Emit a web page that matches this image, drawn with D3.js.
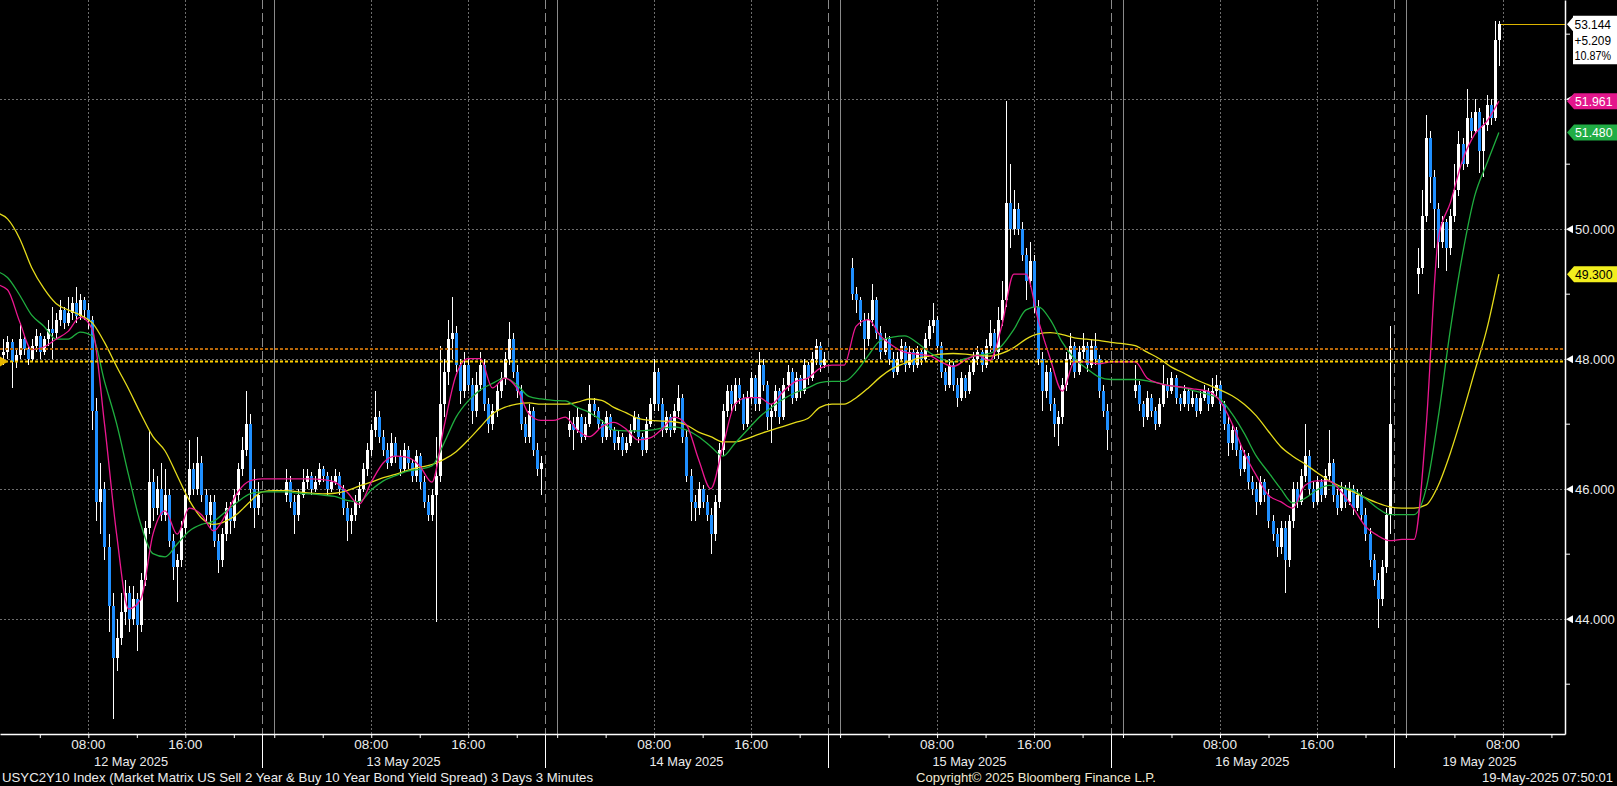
<!DOCTYPE html>
<html><head><meta charset="utf-8">
<script src="https://cdn.jsdelivr.net/npm/d3@7"></script>
<style>
html,body{margin:0;padding:0;background:#000;overflow:hidden}
svg{display:block}
text{font-family:"Liberation Sans",Arial,sans-serif}
</style></head><body>
<svg id="chart" width="1617" height="786"></svg>
<script>
// ---------------- DATA ----------------
const dayLabels = ["12 May 2025","13 May 2025","14 May 2025","15 May 2025","16 May 2025","19 May 2025"];
const timeTickLabels = ["08:00","16:00"];
const gridHours = [8,16];
const minorHours = [0,4,8,12,16,20];
const yLabelTicks = [44,46,48,50,52];
const yMinorTicks = [43,45,47,49,51,53];
const titleText = "USYC2Y10 Index (Market Matrix US Sell 2 Year & Buy 10 Year Bond Yield Spread) 3 Days 3 Minutes";
const copyrightText = "Copyright\u00A9 2025 Bloomberg Finance L.P.";
const stampText = "19-May-2025 07:50:01";
const lastPrice = 53.144, netChange = "+5.209", pctChange = "10.87%";
const maLastValues = [51.961, 51.480, 49.300];   // fast, mid, slow
const prevCloseLevel = 47.955, orangeLevel = 48.149;

// candles: [open, high, low, close], 20-minute bars from 01:00
const candles12May = [
[48.05,48.3,47.9,48.1],[48.1,48.35,48.0,48.25],[48.25,48.3,47.55,47.95],[47.95,48.15,47.85,48.05],[48.05,48.55,48.0,48.3],
[48.3,48.35,48.05,48.15],[48.15,48.2,47.9,48.0],[48.0,48.3,47.95,48.2],[48.2,48.45,48.1,48.35],[48.35,48.4,48.0,48.1],
[48.1,48.35,48.05,48.3],[48.3,48.6,48.2,48.45],[48.45,48.8,48.0,48.4],[48.4,48.7,48.3,48.6],[48.6,48.9,48.5,48.75],
[48.75,48.8,48.45,48.55],[48.55,48.95,48.5,48.7],[48.7,48.95,48.6,48.85],[48.85,49.1,48.55,48.65],[48.65,49.0,48.6,48.9],
[48.9,48.95,48.6,48.75],[48.75,48.85,48.45,48.6],[48.6,48.65,46.9,47.2],[47.2,47.4,45.5,45.8],[45.8,46.4,45.3,46.0],
[46.0,46.1,44.9,45.1],[45.1,45.3,43.8,44.2],[44.2,44.4,42.45,43.4],[43.4,44.0,43.2,43.7],[43.7,44.4,43.6,44.1],
[44.1,44.6,43.9,44.4],[44.4,44.5,43.8,44.0],[44.0,44.5,43.9,44.3],[44.3,44.4,43.5,43.9],[43.9,44.7,43.8,44.6],
[44.6,45.5,44.5,45.4],[45.4,46.9,45.3,46.1],[46.1,46.3,45.5,45.7],[45.7,46.2,45.6,46.0],[46.0,46.4,45.5,45.6],
[45.6,46.3,45.5,45.9],[45.9,46.0,45.1,45.2],[45.2,45.3,44.6,44.8],[44.8,45.0,44.25,44.9],[44.9,45.5,44.8,45.4],
[45.4,46.0,45.3,45.9],[45.9,46.75,45.8,46.3],[46.3,46.4,45.9,46.0],[46.0,46.8,45.9,46.4],[46.4,46.5,45.8,45.9],
[45.9,46.0,45.5,45.6],[45.6,45.9,45.4,45.8],[45.8,45.9,45.1,45.2],[45.2,45.3,44.7,44.9],[44.9,45.4,44.8,45.3],
[45.3,45.8,45.2,45.7],[45.7,45.8,45.3,45.5],[45.5,46.0,45.4,45.9],[45.9,46.4,45.8,46.3],[46.3,46.8,46.2,46.6],
[46.6,47.5,46.5,47.0],[47.0,47.15,45.7,46.0],[46.0,46.3,45.4,45.7],[45.7,46.1,45.6,45.9]];
const candles13May = [
[45.9,46.3,45.8,46.1],[46.1,46.2,45.7,45.8],[45.8,45.9,45.3,45.6],[45.6,46.0,45.5,45.9],[45.9,46.3,45.85,46.1],
[46.1,46.3,46.0,46.2],[46.2,46.25,45.9,46.0],[46.0,46.2,45.95,46.1],[46.1,46.4,46.05,46.3],[46.3,46.35,46.1,46.2],
[46.2,46.25,45.9,46.0],[46.0,46.2,45.95,46.1],[46.1,46.3,46.05,46.2],[46.2,46.25,45.9,46.0],[46.0,46.05,45.6,45.7],
[45.7,45.8,45.2,45.5],[45.5,45.7,45.3,45.6],[45.6,45.9,45.5,45.8],[45.8,46.1,45.7,46.0],[46.0,46.4,45.95,46.3],
[46.3,46.7,46.2,46.6],[46.6,47.0,46.5,46.9],[46.9,47.5,46.8,47.1],[47.1,47.2,46.7,46.8],[46.8,46.9,46.5,46.6],
[46.6,46.7,46.3,46.4],[46.4,46.85,46.35,46.7],[46.7,46.8,46.4,46.5],[46.5,46.6,46.2,46.3],[46.3,46.7,46.25,46.6],
[46.6,46.65,46.3,46.4],[46.4,46.45,46.1,46.2],[46.2,46.6,46.1,46.5],[46.5,46.55,46.0,46.1],[46.1,46.2,45.7,45.8],
[45.8,45.9,45.5,45.6],[45.6,46.0,45.5,45.9],[45.9,46.8,43.95,46.2],[46.2,48.2,46.1,47.3],[47.3,48.0,47.1,47.8],
[47.8,48.6,47.6,48.3],[48.3,48.95,48.0,48.4],[48.4,48.5,47.8,47.9],[47.9,48.0,47.3,47.5],[47.5,48.1,47.4,47.9],
[47.9,48.0,47.5,47.6],[47.6,47.7,47.0,47.2],[47.2,47.8,47.1,47.6],[47.6,48.1,47.5,47.9],[47.9,48.0,47.2,47.3],
[47.3,47.4,46.85,47.0],[47.0,47.3,46.9,47.2],[47.2,47.6,47.1,47.5],[47.5,47.8,47.4,47.7],[47.7,48.1,47.6,48.0],
[48.0,48.56,47.9,48.3],[48.3,48.4,47.7,47.8],[47.8,47.9,47.4,47.5],[47.5,47.6,46.9,47.0],[47.0,47.1,46.7,46.8],
[46.8,47.3,46.7,47.2],[47.2,47.25,46.5,46.6],[46.6,46.7,46.2,46.3],[46.3,46.5,45.9,46.4]];
const candles14May = [
[46.9,47.2,46.8,47.0],[47.0,47.1,46.6,46.9],[46.9,47.25,46.85,47.1],[47.1,47.15,46.7,46.8],[46.8,47.1,46.75,47.0],
[47.0,47.6,46.95,47.3],[47.3,47.4,47.1,47.2],[47.2,47.25,46.9,47.0],[47.0,47.05,46.7,46.8],[46.8,47.2,46.75,47.1],
[47.1,47.15,46.8,46.9],[46.9,46.95,46.6,46.7],[46.7,46.9,46.6,46.8],[46.8,46.85,46.5,46.6],[46.6,46.8,46.55,46.7],
[46.7,47.0,46.65,46.9],[46.9,47.2,46.85,47.1],[47.1,47.15,46.7,46.8],[46.8,46.85,46.5,46.6],[46.6,47.1,46.55,47.0],
[47.0,47.4,46.95,47.3],[47.3,48.0,47.2,47.8],[47.8,47.85,47.2,47.3],[47.3,47.4,46.8,46.9],[46.9,47.2,46.85,47.1],
[47.1,47.15,46.8,46.9],[46.9,47.3,46.85,47.2],[47.2,47.6,47.1,47.4],[47.4,47.45,46.7,46.8],[46.8,46.9,46.1,46.2],
[46.2,46.3,45.5,45.8],[45.8,45.9,45.5,45.7],[45.7,46.1,45.6,46.0],[46.0,46.05,45.7,45.8],[45.8,45.9,45.5,45.6],
[45.6,45.7,45.0,45.3],[45.3,45.9,45.2,45.8],[45.8,46.7,45.7,46.6],[46.6,47.3,46.5,47.2],[47.2,47.6,47.1,47.5],
[47.5,47.6,47.2,47.3],[47.3,47.7,47.2,47.6],[47.6,47.7,47.3,47.4],[47.4,47.45,46.9,47.0],[47.0,47.5,46.95,47.4],
[47.4,47.8,47.3,47.7],[47.7,47.75,47.2,47.3],[47.3,48.1,47.2,47.9],[47.9,48.0,47.5,47.6],[47.6,47.65,46.9,47.1],
[47.1,47.3,46.7,47.2],[47.2,47.6,47.1,47.5],[47.5,47.55,47.0,47.1],[47.1,47.7,47.05,47.6],[47.6,47.9,47.5,47.8],
[47.8,47.85,47.3,47.4],[47.4,47.8,47.35,47.7],[47.7,47.75,47.4,47.5],[47.5,48.0,47.45,47.9],[47.9,47.95,47.6,47.7],
[47.7,48.1,47.65,48.0],[48.0,48.3,47.9,48.2],[48.2,48.25,47.8,47.9],[47.9,48.1,47.85,48.0]];
const candles15May = [
[49.4,49.55,48.9,49.0],[49.0,49.1,48.7,48.9],[48.9,48.95,48.5,48.6],[48.6,48.7,48.0,48.3],[48.3,48.7,48.2,48.6],
[48.6,49.15,48.5,48.9],[48.9,48.95,48.3,48.4],[48.4,48.5,48.0,48.1],[48.1,48.4,48.05,48.3],[48.3,48.35,47.9,48.0],
[48.0,48.1,47.7,47.8],[47.8,48.1,47.75,48.0],[48.0,48.3,47.95,48.2],[48.2,48.25,47.8,47.9],[47.9,48.2,47.85,48.1],
[48.1,48.15,47.8,47.9],[47.9,48.2,47.85,48.1],[48.1,48.15,47.9,48.0],[48.0,48.4,47.95,48.3],[48.3,48.6,48.2,48.5],
[48.5,48.85,48.4,48.6],[48.6,48.65,48.1,48.2],[48.2,48.25,47.7,47.8],[47.8,47.85,47.5,47.6],[47.6,48.0,47.55,47.9],
[47.9,47.95,47.5,47.6],[47.6,47.7,47.25,47.4],[47.4,47.8,47.35,47.7],[47.7,47.75,47.4,47.5],[47.5,47.9,47.45,47.8],
[47.8,48.1,47.75,48.0],[48.0,48.2,47.9,48.1],[48.1,48.15,47.8,47.9],[47.9,48.3,47.85,48.2],[48.2,48.6,48.1,48.4],
[48.4,48.45,48.0,48.1],[48.1,48.8,48.0,48.6],[48.6,49.2,48.5,48.9],[48.9,51.96,48.8,50.4],[50.4,51.0,49.7,50.0],
[50.0,50.6,49.9,50.3],[50.3,50.4,49.9,50.0],[50.0,50.1,49.5,49.6],[49.6,49.7,48.9,49.2],[49.2,49.8,49.1,49.5],
[49.5,49.6,48.7,48.8],[48.8,48.9,47.9,48.0],[48.0,48.1,47.2,47.5],[47.5,47.9,47.4,47.8],[47.8,47.85,47.2,47.3],
[47.3,47.4,46.8,47.0],[47.0,47.2,46.65,47.1],[47.1,47.7,47.0,47.6],[47.6,48.1,47.5,48.0],[48.0,48.4,47.9,48.2],
[48.2,48.25,47.7,47.8],[47.8,48.2,47.75,48.1],[48.1,48.4,48.0,48.2],[48.2,48.25,47.8,47.9],[47.9,48.3,47.85,48.2],
[48.2,48.4,47.9,48.0],[48.0,48.05,47.4,47.5],[47.5,47.6,47.1,47.2],[47.2,47.3,46.6,46.9]];
const candles16May = [
[47.5,47.9,47.4,47.6],[47.6,47.65,47.2,47.3],[47.3,47.35,46.95,47.1],[47.1,47.5,47.05,47.4],[47.4,47.45,47.1,47.2],
[47.2,47.25,46.9,47.0],[47.0,47.4,46.95,47.3],[47.3,47.9,47.25,47.6],[47.6,47.7,47.4,47.5],[47.5,47.8,47.45,47.7],
[47.7,47.75,47.3,47.4],[47.4,47.45,47.2,47.3],[47.3,47.6,47.25,47.5],[47.5,47.55,47.2,47.3],[47.3,47.5,47.25,47.4],
[47.4,47.45,47.1,47.2],[47.2,47.5,47.15,47.4],[47.4,47.6,47.35,47.5],[47.5,47.55,47.2,47.3],[47.3,47.7,47.25,47.5],
[47.5,47.75,47.4,47.6],[47.6,47.65,47.2,47.3],[47.3,47.35,46.9,47.0],[47.0,47.1,46.5,46.7],[46.7,47.0,46.6,46.9],
[46.9,46.95,46.5,46.6],[46.6,46.7,46.2,46.3],[46.3,46.6,46.25,46.5],[46.5,46.55,46.0,46.1],[46.1,46.2,45.9,46.0],
[46.0,46.1,45.6,45.8],[45.8,46.2,45.75,46.1],[46.1,46.15,45.8,45.9],[45.9,46.0,45.4,45.5],[45.5,45.6,45.2,45.3],
[45.3,45.4,44.95,45.1],[45.1,45.5,45.0,45.4],[45.4,45.5,44.4,44.9],[44.9,45.6,44.8,45.5],[45.5,46.1,45.4,46.0],
[46.0,46.1,45.7,45.8],[45.8,46.3,45.75,46.2],[46.2,47.0,46.1,46.5],[46.5,46.6,45.9,46.0],[46.0,46.1,45.7,45.8],
[45.8,46.2,45.75,46.1],[46.1,46.15,45.8,45.9],[45.9,46.3,45.85,46.2],[46.2,46.9,46.1,46.4],[46.4,46.45,45.8,45.9],
[45.9,46.0,45.6,45.7],[45.7,46.1,45.65,46.0],[46.0,46.05,45.7,45.8],[45.8,46.1,45.75,46.0],[46.0,46.05,45.6,45.7],
[45.7,46.0,45.65,45.9],[45.9,45.95,45.5,45.6],[45.6,45.7,45.2,45.3],[45.3,45.4,44.8,44.9],[44.9,45.0,44.5,44.6],
[44.6,44.7,43.85,44.3],[44.3,44.9,44.2,44.8],[44.8,45.7,44.7,45.6],[45.6,48.5,45.3,47.0]];
const candles19May = [
[49.3,49.7,49.0,49.4],[49.4,50.6,49.3,50.2],[50.2,51.75,50.1,51.4],[51.4,51.5,50.4,50.8],[50.8,50.9,49.7,50.3],
[50.3,50.4,49.4,49.8],[49.8,50.2,49.7,50.1],[50.1,50.15,49.35,49.7],[49.7,50.3,49.6,50.2],[50.2,51.0,50.1,50.6],
[50.6,51.5,50.5,51.3],[51.3,51.4,50.9,51.0],[51.0,52.15,50.95,51.7],[51.7,51.8,51.4,51.5],[51.5,52.0,51.45,51.8],
[51.8,51.85,50.85,51.2],[51.2,51.7,50.8,51.6],[51.6,52.05,51.5,51.9],[51.9,52.0,51.6,51.7],[51.7,53.2,51.65,52.9],
[52.9,53.2,52.5,53.144]];
const candlesByDay = [candles12May, candles13May, candles14May, candles15May, candles16May, candles19May];

// moving averages sampled hourly (trading time), ending at the last bar
const maFast = [
49.15,49.06,48.57,48.14,48.18,48.3,48.42,48.64,48.45,47.0,
45.3,44.15,44.3,45.3,45.66,45.3,45.7,45.6,45.35,45.6,
45.95,46.12,46.15,46.15,46.15,46.15,46.15,46.14,46.1,45.95,
45.76,46.1,46.4,46.5,46.48,46.35,46.1,46.95,47.75,48.0,
48.0,47.55,47.7,47.55,47.15,47.05,47.05,47.1,46.9,46.8,
46.95,47.02,46.92,46.75,46.78,46.92,47.1,46.98,46.45,46.0,
46.65,47.3,47.4,47.4,47.3,47.5,47.65,47.7,47.85,47.9,
47.9,48.5,48.6,48.35,48.2,48.1,48.07,48.05,47.95,47.88,
47.98,48.05,47.97,48.5,49.3,49.3,48.6,48.0,47.5,47.95,
47.95,47.92,47.95,47.95,47.95,47.7,47.62,47.58,47.56,47.53,
47.5,47.35,47.0,46.55,46.2,45.9,45.8,45.7,46.05,46.12,
46.12,45.95,45.7,45.42,45.28,45.2,45.22,45.22,46.95,49.85,
50.4,51.05,51.45,51.65,51.96];
const maMid = [
49.35,49.25,48.98,48.67,48.5,48.3,48.3,48.41,48.35,47.65,
47.0,46.2,45.45,45.0,44.95,45.15,45.35,45.45,45.5,45.65,
45.8,45.92,45.95,45.95,45.95,45.93,45.92,45.9,45.88,45.82,
45.8,45.98,46.12,46.2,46.27,46.3,46.35,46.7,47.1,47.35,
47.52,47.62,47.7,47.6,47.42,47.38,47.36,47.35,47.25,47.17,
47.05,46.9,46.89,46.89,46.9,46.93,46.95,46.9,46.8,46.65,
46.5,46.7,46.9,47.1,47.25,47.38,47.48,47.55,47.63,47.65,
47.65,47.8,48.05,48.28,48.33,48.35,48.25,48.1,48.0,47.95,
48.0,48.05,48.08,48.2,48.45,48.75,48.8,48.6,48.25,48.0,
47.85,47.72,47.68,47.68,47.68,47.66,47.62,47.58,47.55,47.5,
47.45,47.38,47.15,46.85,46.5,46.25,46.0,45.78,45.85,45.98,
46.05,46.02,45.98,45.85,45.7,45.6,45.6,45.6,46.0,47.1,
48.45,49.6,50.5,51.0,51.48];
const maSlow = [
50.25,50.15,49.85,49.4,49.08,48.85,48.75,48.67,48.55,48.25,
47.88,47.53,47.15,46.8,46.58,46.2,45.82,45.55,45.45,45.5,
45.62,45.8,45.95,45.97,45.97,45.95,45.93,45.92,45.93,45.97,
46.04,46.1,46.17,46.22,46.28,46.33,46.37,46.45,46.57,46.75,
46.95,47.15,47.25,47.3,47.32,47.3,47.3,47.3,47.33,47.38,
47.36,47.25,47.17,47.08,47.05,47.04,47.03,46.98,46.87,46.8,
46.72,46.72,46.77,46.84,46.9,46.96,47.02,47.08,47.25,47.3,
47.3,47.4,47.55,47.72,47.85,47.93,48.0,48.04,48.07,48.08,
48.07,48.05,48.04,48.08,48.17,48.3,48.38,48.4,48.37,48.32,
48.3,48.28,48.25,48.23,48.2,48.1,48.0,47.87,47.78,47.68,
47.6,47.52,47.43,47.3,47.12,46.88,46.65,46.5,46.38,46.25,
46.12,46.03,45.95,45.86,45.78,45.72,45.7,45.7,45.75,46.05,
46.55,47.15,47.8,48.45,49.3];

// ---------------- LAYOUT ----------------
const W = 1617, H = 786, plotR = 1565, plotB = 734;
const SESSION = 23 + 1/3;               // 23:00 previous day -> 22:20
const tHour = (d, clock) => d * SESSION + clock + 1;   // trading-time hours
const CANDLE_START = 1, CANDLE_STEP = 1/3;
const MA_START = tHour(0, 0) + 1/3;

const x = d3.scaleLinear().domain([tHour(0, 43/60), tHour(5, 13.12)]).range([0, plotR]);
const y = d3.scaleLinear().domain([42.226, 53.518]).range([plotB, 0]);

const C = {
  grid: "#6d6d6d", sep: "#8a8a8a", text: "#ececec", blue: "#1f8fff",
  fast: "#ec1790", mid: "#1fae3f", slow: "#e6dc1a",
  fastBox: "#e3168c", midBox: "#21ad45", slowBox: "#f2ee1e"
};

const svg = d3.select("#chart");
svg.append("rect").attr("width", W).attr("height", H).attr("fill", "#000");

const g = svg.append("g");
const crisp = s => s.attr("shape-rendering", "crispEdges");
const px = v => Math.round(v) + 0.5;

yLabelTicks.forEach(v => {
  crisp(g.append("line")).attr("x1", 0).attr("x2", plotR)
    .attr("y1", px(y(v))).attr("y2", px(y(v)))
    .attr("stroke", C.grid).attr("stroke-dasharray", "2,2");
});

dayLabels.forEach((lab, d) => {
  gridHours.forEach(h => {
    const xx = x(tHour(d, h));
    if (xx < 0 || xx > plotR) return;
    crisp(g.append("line")).attr("x1", px(xx)).attr("x2", px(xx)).attr("y1", 0).attr("y2", plotB)
      .attr("stroke", C.grid).attr("stroke-dasharray", "2,2");
  });
  if (d > 0) {
    const xs = x(tHour(d, -1));
    crisp(g.append("line")).attr("x1", px(xs)).attr("x2", px(xs)).attr("y1", 0).attr("y2", plotB)
      .attr("stroke", C.sep).attr("stroke-dasharray", "9,4");
    const xm = x(tHour(d, 0));
    crisp(g.append("line")).attr("x1", px(xm)).attr("x2", px(xm)).attr("y1", 0).attr("y2", plotB)
      .attr("stroke", C.sep);
  }
});

// candles: wick underneath, body on top
const candleG = g.append("g");
candlesByDay.forEach((bars, d) => {
  bars.forEach((b, i) => {
    const [o, h, l, c] = b;
    const hi = Math.max(h, o, c), lo = Math.min(l, o, c);
    const cx = Math.round(x(tHour(d, CANDLE_START + i * CANDLE_STEP)));
    const up = c >= o;
    crisp(candleG.append("line")).attr("x1", cx + 0.5).attr("x2", cx + 0.5)
      .attr("y1", Math.round(y(hi))).attr("y2", Math.round(y(lo)))
      .attr("stroke", "#ffffff").attr("stroke-width", 1);
    const yt = Math.round(y(Math.max(o, c))), yb = Math.round(y(Math.min(o, c)));
    crisp(candleG.append("rect")).attr("x", cx - 1).attr("width", 3)
      .attr("y", yt).attr("height", Math.max(1, yb - yt))
      .attr("fill", up ? "#ffffff" : C.blue);
  });
});

const maLine = d3.line().x((v, k) => x(MA_START + k)).y(v => y(v)).curve(d3.curveMonotoneX);
[[maSlow, C.slow], [maMid, C.mid], [maFast, C.fast]].forEach(([arr, col]) => {
  g.append("path").attr("d", maLine(arr)).attr("fill", "none").attr("stroke", col).attr("stroke-width", 1.3);
});

g.append("line").attr("x1", 0).attr("x2", plotR).attr("y1", y(orangeLevel)).attr("y2", y(orangeLevel))
  .attr("stroke", "#b8680a").attr("stroke-width", 2).attr("stroke-dasharray", "3,2");
g.append("line").attr("x1", 0).attr("x2", plotR).attr("y1", y(prevCloseLevel)).attr("y2", y(prevCloseLevel))
  .attr("stroke", "#ffd000").attr("stroke-width", 2).attr("stroke-dasharray", "3,2");
const yp = y(prevCloseLevel);
g.append("path").attr("d", `M0,${yp - 5}L8,${yp}L0,${yp + 5}Z`).attr("fill", "#e8b800");

const lastBarX = x(tHour(5, CANDLE_START + (candles19May.length - 1) * CANDLE_STEP));
crisp(g.append("line")).attr("x1", lastBarX + 2).attr("x2", plotR)
  .attr("y1", px(y(lastPrice))).attr("y2", px(y(lastPrice))).attr("stroke", "#dcb400");

// ---------------- AXES ----------------
const minorTs = [];
dayLabels.forEach((lab, d) => minorHours.forEach(h => {
  const t = tHour(d, h); if (x(t) >= 0 && x(t) <= plotR) minorTs.push(t);
}));
const xAxis = svg.append("g").attr("transform", `translate(0,${plotB})`)
  .call(d3.axisBottom(x).tickValues(minorTs).tickSize(4).tickSizeOuter(0).tickFormat(""));
xAxis.select(".domain").attr("stroke", "#fff").attr("stroke-width", 1.5);
xAxis.selectAll(".tick line").attr("stroke", "#fff");

dayLabels.forEach((lab, d) => {
  if (d === 0) return;
  const xs = px(x(tHour(d, -1)));
  crisp(svg.append("line")).attr("x1", xs).attr("x2", xs).attr("y1", plotB).attr("y2", 768)
    .attr("stroke", "#fff").attr("stroke-width", 1.3);
});

dayLabels.forEach((lab, d) => {
  gridHours.forEach((h, j) => {
    const xx = x(tHour(d, h));
    if (xx < 0 || xx > plotR - 25) return;
    svg.append("text").attr("x", xx).attr("y", 748.5).attr("text-anchor", "middle")
      .attr("font-size", 13).attr("fill", C.text).attr("textLength", 34).attr("lengthAdjust", "spacingAndGlyphs")
      .text(timeTickLabels[j]);
  });
  const left = Math.max(0, x(tHour(d, -1))), right = Math.min(plotR, x(tHour(d + 1, -1)));
  svg.append("text").attr("x", (left + right) / 2).attr("y", 765.5).attr("text-anchor", "middle")
    .attr("font-size", 13).attr("fill", C.text).attr("textLength", 74).attr("lengthAdjust", "spacingAndGlyphs")
    .text(lab);
});

svg.append("text").attr("x", 2).attr("y", 782).attr("font-size", 13).attr("fill", C.text)
  .attr("textLength", 591).attr("lengthAdjust", "spacingAndGlyphs").text(titleText);
svg.append("text").attr("x", 916).attr("y", 782).attr("font-size", 13).attr("fill", "#f2ead2")
  .attr("textLength", 240).attr("lengthAdjust", "spacingAndGlyphs").text(copyrightText);
svg.append("text").attr("x", 1482).attr("y", 782).attr("font-size", 13).attr("fill", C.text)
  .attr("textLength", 131).attr("lengthAdjust", "spacingAndGlyphs").text(stampText);

const yAxis = svg.append("g").attr("transform", `translate(${plotR},0)`)
  .call(d3.axisRight(y).tickValues(yLabelTicks).tickSize(0).tickPadding(10).tickFormat(d3.format(".3f")));
yAxis.select(".domain").attr("stroke", "#fff").attr("stroke-width", 1.5);
yAxis.selectAll(".tick text").attr("font-size", 13).attr("fill", C.text)
  .attr("font-family", '"Liberation Sans",Arial,sans-serif').attr("dy", "0.36em");
yAxis.selectAll(".tick").append("path").attr("d", "M1,0L8,-4L8,4Z").attr("fill", "#fff");
const yMinor = svg.append("g").attr("transform", `translate(${plotR},0)`)
  .call(d3.axisRight(y).tickValues(yMinorTicks).tickSize(5).tickFormat(""));
yMinor.select(".domain").remove();
yMinor.selectAll(".tick line").attr("stroke", "#fff");

function tagBox(v, fill, color, txt) {
  const yy = y(v);
  svg.append("path").attr("d", `M${plotR + 2},${yy}L${plotR + 9},${yy - 8}L${W},${yy - 8}L${W},${yy + 8}L${plotR + 9},${yy + 8}Z`)
    .attr("fill", fill);
  svg.append("text").attr("x", 1575).attr("y", yy + 4.6).attr("font-size", 13).attr("fill", color)
    .attr("textLength", 37.5).attr("lengthAdjust", "spacingAndGlyphs").text(txt);
}
tagBox(maLastValues[2], C.slowBox, "#000", maLastValues[2].toFixed(3));
tagBox(maLastValues[1], C.midBox, "#fff", maLastValues[1].toFixed(3));
tagBox(maLastValues[0], C.fastBox, "#fff", maLastValues[0].toFixed(3));

const yl = y(lastPrice);
svg.append("path").attr("d", `M${plotR + 2},${yl}L${plotR + 8},${yl - 7}L${plotR + 8},${yl - 8.5}L${W},${yl - 8.5}L${W},${yl + 40}L${plotR + 8},${yl + 40}L${plotR + 8},${yl + 7}Z`)
  .attr("fill", "#fff");
[lastPrice.toFixed(3), netChange, pctChange].forEach((t, j) => {
  svg.append("text").attr("x", 1574.5).attr("y", yl + 4.4 + j * 15.8).attr("font-size", 12.5).attr("fill", "#000")
    .attr("textLength", 36.5).attr("lengthAdjust", "spacingAndGlyphs").text(t);
});
</script>
</body></html>
